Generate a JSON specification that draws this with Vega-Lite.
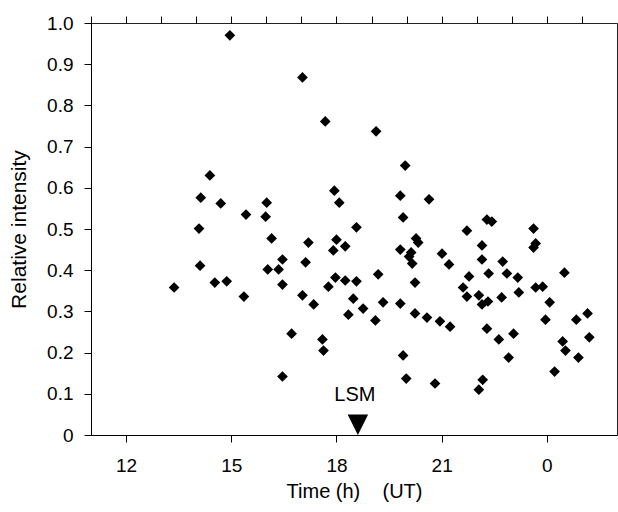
{
  "$schema": "https://vega.github.io/schema/vega-lite/v6.json",
  "autosize": "none",
  "width": 526,
  "height": 412,
  "padding": {"left": 91, "top": 23, "right": 1, "bottom": 77},
  "background": "white",
  "config": {
    "font": "Liberation Sans",
    "view": {"stroke": "#222", "strokeWidth": 1},
    "axis": {
      "domainColor": "black",
      "tickColor": "black",
      "labelColor": "black",
      "titleColor": "black",
      "grid": false,
      "labelFont": "Liberation Sans",
      "titleFont": "Liberation Sans",
      "titleFontWeight": "normal"
    }
  },
  "datasets": {
    "points": [
      {"t": 13.37, "v": 0.358}, {"t": 14.08, "v": 0.501}, {"t": 14.13, "v": 0.576}, {"t": 14.39, "v": 0.630},
      {"t": 14.11, "v": 0.411}, {"t": 14.53, "v": 0.370}, {"t": 14.70, "v": 0.562}, {"t": 14.87, "v": 0.373},
      {"t": 14.96, "v": 0.970}, {"t": 15.36, "v": 0.336}, {"t": 15.42, "v": 0.535}, {"t": 16.01, "v": 0.564},
      {"t": 15.98, "v": 0.530}, {"t": 16.04, "v": 0.402}, {"t": 16.15, "v": 0.477}, {"t": 16.35, "v": 0.402},
      {"t": 16.46, "v": 0.426}, {"t": 16.46, "v": 0.365}, {"t": 16.46, "v": 0.142}, {"t": 16.72, "v": 0.246},
      {"t": 17.03, "v": 0.868}, {"t": 17.03, "v": 0.339}, {"t": 17.12, "v": 0.419}, {"t": 17.20, "v": 0.467},
      {"t": 17.35, "v": 0.317}, {"t": 17.60, "v": 0.232}, {"t": 17.63, "v": 0.205}, {"t": 17.68, "v": 0.761},
      {"t": 17.77, "v": 0.360}, {"t": 17.94, "v": 0.593}, {"t": 18.08, "v": 0.564}, {"t": 18.00, "v": 0.474},
      {"t": 17.91, "v": 0.448}, {"t": 18.25, "v": 0.458}, {"t": 17.97, "v": 0.382}, {"t": 18.25, "v": 0.375},
      {"t": 18.57, "v": 0.373}, {"t": 18.57, "v": 0.504}, {"t": 18.48, "v": 0.331}, {"t": 18.34, "v": 0.292},
      {"t": 18.76, "v": 0.307}, {"t": 19.11, "v": 0.278}, {"t": 19.13, "v": 0.737}, {"t": 19.19, "v": 0.390},
      {"t": 19.33, "v": 0.322}, {"t": 19.82, "v": 0.581}, {"t": 19.90, "v": 0.528}, {"t": 19.82, "v": 0.450},
      {"t": 19.96, "v": 0.654}, {"t": 20.27, "v": 0.477}, {"t": 20.33, "v": 0.467}, {"t": 20.13, "v": 0.443},
      {"t": 20.07, "v": 0.433}, {"t": 20.16, "v": 0.416}, {"t": 20.24, "v": 0.370}, {"t": 19.82, "v": 0.319},
      {"t": 20.24, "v": 0.295}, {"t": 19.90, "v": 0.193}, {"t": 19.99, "v": 0.137}, {"t": 20.64, "v": 0.572},
      {"t": 20.58, "v": 0.285}, {"t": 20.95, "v": 0.276}, {"t": 20.81, "v": 0.125}, {"t": 21.01, "v": 0.440},
      {"t": 21.21, "v": 0.414}, {"t": 21.24, "v": 0.263}, {"t": 21.72, "v": 0.496}, {"t": 21.61, "v": 0.358},
      {"t": 21.72, "v": 0.336}, {"t": 21.78, "v": 0.385}, {"t": 22.06, "v": 0.339}, {"t": 22.15, "v": 0.317},
      {"t": 22.32, "v": 0.324}, {"t": 22.15, "v": 0.460}, {"t": 22.15, "v": 0.426}, {"t": 22.29, "v": 0.523},
      {"t": 22.43, "v": 0.518}, {"t": 22.34, "v": 0.392}, {"t": 22.29, "v": 0.258}, {"t": 22.17, "v": 0.134},
      {"t": 22.06, "v": 0.110}, {"t": 22.63, "v": 0.232}, {"t": 22.71, "v": 0.334}, {"t": 22.74, "v": 0.421},
      {"t": 22.86, "v": 0.392}, {"t": 22.91, "v": 0.188}, {"t": 23.05, "v": 0.246}, {"t": 23.17, "v": 0.382},
      {"t": 23.20, "v": 0.346}, {"t": 23.62, "v": 0.501}, {"t": 23.68, "v": 0.465}, {"t": 23.62, "v": 0.455},
      {"t": 23.68, "v": 0.358}, {"t": 23.88, "v": 0.360}, {"t": 24.08, "v": 0.322}, {"t": 23.96, "v": 0.280},
      {"t": 24.22, "v": 0.154}, {"t": 24.45, "v": 0.227}, {"t": 24.53, "v": 0.205}, {"t": 24.50, "v": 0.394},
      {"t": 24.84, "v": 0.280}, {"t": 24.90, "v": 0.188}, {"t": 25.16, "v": 0.295}, {"t": 25.21, "v": 0.237}
    ],
    "marker": [
      {"t": 18.61, "v": 0.025, "tv": 0.097, "label": "LSM"}
    ]
  },
  "resolve": {"axis": {"x": "independent"}},
  "layer": [
    {
      "data": {"name": "points"},
      "mark": {"type": "point", "shape": "diamond", "filled": true, "color": "black", "opacity": 1, "size": 115},
      "encoding": {
        "x": {
          "field": "t", "type": "quantitative",
          "scale": {"domain": [11, 26], "nice": false, "zero": false},
          "axis": {
            "title": "Time (h)\u00a0\u00a0\u00a0\u00a0(UT)",
            "values": [12, 15, 18, 21, 24],
            "labelExpr": "datum.value >= 24 ? '' + (datum.value - 24) : '' + datum.value",
            "tickSize": 7,
            "labelPadding": 14,
            "labelFontSize": 19,
            "titleFontSize": 20,
            "titlePadding": 6,
            "labelOverlap": false,
            "labelFlush": false
          }
        },
        "y": {
          "field": "v", "type": "quantitative",
          "scale": {"domain": [0, 1], "nice": false},
          "axis": {
            "title": "Relative intensity",
            "values": [0, 0.1, 0.2, 0.3, 0.4, 0.5, 0.6, 0.7, 0.8, 0.9, 1.0],
            "labelExpr": "datum.value == 0 ? '0' : format(datum.value, '.1f')",
            "tickSize": 7,
            "labelPadding": 11,
            "labelFontSize": 19,
            "titleFontSize": 21,
            "titlePadding": 17,
            "labelOverlap": false,
            "labelFlush": false
          }
        }
      }
    },
    {
      "data": {"name": "marker"},
      "mark": {"type": "point", "shape": "M-1,-1L1,-1L0,1Z", "filled": true, "color": "black", "opacity": 1, "size": 420},
      "encoding": {
        "x": {
          "field": "t", "type": "quantitative",
          "axis": {
            "title": null,
            "values": [11, 12, 13, 14, 15, 16, 17, 18, 19, 20, 21, 22, 23, 24, 25],
            "labels": false,
            "domain": false,
            "tickSize": 7
          }
        },
        "y": {"field": "v", "type": "quantitative"}
      }
    },
    {
      "data": {"name": "marker"},
      "mark": {"type": "text", "fontSize": 20, "color": "black", "align": "center", "baseline": "middle", "dx": -3},
      "encoding": {
        "x": {"field": "t", "type": "quantitative", "axis": null},
        "y": {"field": "tv", "type": "quantitative"},
        "text": {"field": "label"}
      }
    }
  ]
}
